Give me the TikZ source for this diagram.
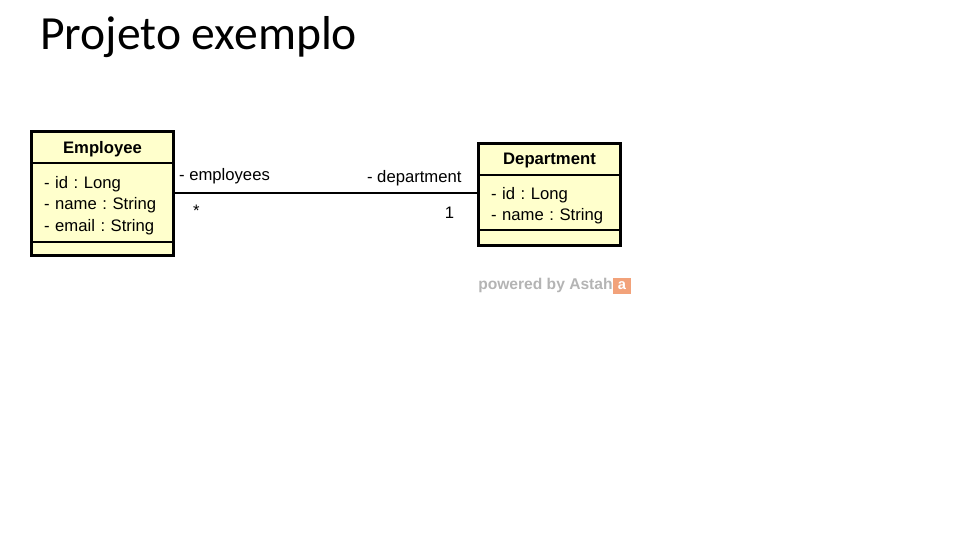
\documentclass[tikz,border=0pt]{standalone}
\usepackage{fontspec}
\setmainfont{Liberation Sans}
\newfontfamily\titlefont{Carlito}
\usetikzlibrary{positioning}
\frenchspacing

\definecolor{umlfill}{HTML}{FFFFCC}
\definecolor{astahgray}{HTML}{B4B4B4}
\definecolor{astahorange}{HTML}{F2A27A}

\begin{document}
\begin{tikzpicture}[x=0.75pt, y=-0.75pt,
    classhead/.style={rectangle, draw, fill=umlfill, line width=0.9pt, outer sep=0pt, minimum width=106.5pt,
        minimum height=23.6pt, inner sep=0pt, text depth=0pt, font=\fontsize{12.5}{15}\selectfont\bfseries},
    classattr/.style={rectangle, draw, fill=umlfill, line width=0.9pt, outer sep=0pt, text width=87.7pt,
        inner xsep=9.4pt, inner ysep=0pt, align=left, font=\fontsize{12.5}{16}\selectfont},
    classops/.style={rectangle, draw, fill=umlfill, line width=0.9pt, outer sep=0pt, minimum width=106.5pt, inner sep=0pt},
    rolelabel/.style={inner sep=0pt, font=\fontsize{12.5}{15}\selectfont}]
    \useasboundingbox (0,0) rectangle (967,537);

    \node [anchor=base west, inner sep=0pt, font=\titlefont\fontsize{35.7}{42}\selectfont] (title) at (40,49) {Projeto exemplo};

    % Employee
    \node [classhead, anchor=north west] (employee) at (31.5,131.5) {Employee};
    \node [classattr, below=0pt of employee, minimum height=59.25pt, text depth=30pt] (employeeattr) {- id : Long\\- name : String\\- email : String};
    \node [classops, below=0pt of employeeattr, minimum height=10.1pt] (employeeops) {};
    \draw [line width=2.2pt] (employee.north west) rectangle (employeeops.south east);

    % Department
    \node [classhead, anchor=north west] (department) at (478.5,143.5) {Department};
    \node [classattr, below=0pt of department, minimum height=41.25pt, text depth=14pt] (departmentattr) {- id : Long\\- name : String};
    \node [classops, below=0pt of departmentattr, minimum height=11.6pt] (departmentops) {};
    \draw [line width=2.2pt] (department.north west) rectangle (departmentops.south east);

    % association
    \coordinate (assocstart) at ([yshift=7.1pt]employeeattr.east);
    \coordinate (assocend) at ([yshift=7.1pt]departmentattr.west);
    \draw [line width=0.9pt] (assocstart) -- (assocend);
    \node [rolelabel, anchor=west] (employeesrole) at ([xshift=4pt, yshift=12.5pt]assocstart) {- employees};
    \node [rolelabel, anchor=west] (employeesmult) at ([xshift=14.5pt, yshift=-13.5pt]assocstart) {*};
    \node [rolelabel, anchor=east] (departmentrole) at ([xshift=-12.5pt, yshift=11pt]assocend) {- department};
    \node [rolelabel, anchor=east] (departmentmult) at ([xshift=-18pt, yshift=-15pt]assocend) {1};

    % watermark
    \node [anchor=west, inner sep=0pt, text=astahgray, font=\fontsize{11.7}{14}\selectfont\bfseries] (powered) at (478,285.5) {powered by Astah};
    \node [right=0pt of powered, fill=astahorange, text=white, minimum width=13pt, minimum height=12pt, inner sep=0pt,
        font=\fontsize{11}{11}\selectfont\bfseries] (astahlogo) {a};
\end{tikzpicture}
\end{document}
